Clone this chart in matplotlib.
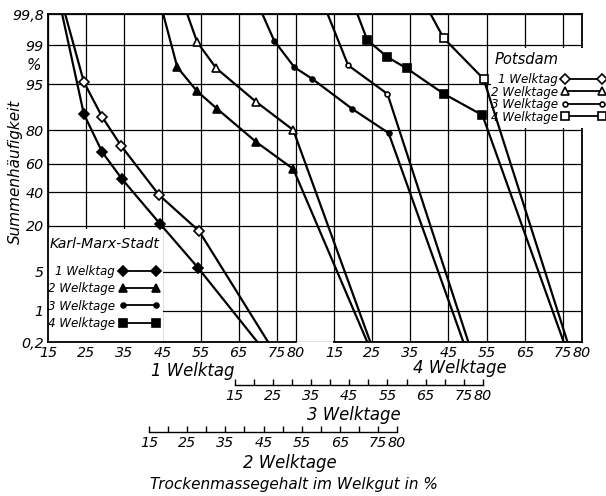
import math
import numpy as np
import matplotlib
matplotlib.use('Agg')
import matplotlib.pyplot as plt
from matplotlib.lines import Line2D
from matplotlib.patches import Rectangle

plt.rcParams['font.family'] = ['DejaVu Sans']
plt.rcParams['font.style'] = 'italic'

# Trockenmassegehalt (%) read on each group's own scale, Summenhaeufigkeit (%)
kms_1_x = [18.7, 24.4, 29.2, 34.4, 44.4, 54.4, 69.9]
kms_1_p = [99.8, 86.9, 67.6, 49.3, 21.0, 5.7, 0.2]
pots_1_x = [19.5, 24.4, 29.2, 34.2, 44.1, 54.6, 72.7]
pots_1_p = [99.8, 95.4, 85.8, 71.3, 38.3, 17.6, 0.2]

kms_2_x = [18.7, 22.4, 27.6, 32.9, 43.1, 52.8, 72.2]
kms_2_p = [99.8, 97.4, 93.6, 88.7, 73.6, 56.3, 0.2]
pots_2_x = [25.0, 27.6, 32.6, 43.1, 52.8, 73.0]
pots_2_p = [99.8, 99.15, 97.3, 90.9, 80.0, 0.2]

kms_3_x = [22.2, 25.3, 30.6, 35.3, 45.8, 55.3, 74.9]
kms_3_p = [99.8, 99.2, 97.4, 95.9, 88.7, 78.5, 0.2]
pots_3_x = [39.3, 44.7, 55.0, 76.2]
pots_3_p = [99.8, 97.6, 93.0, 0.2]

kms_4_x = [21.1, 23.7, 29.0, 34.0, 43.8, 53.9, 75.2]
kms_4_p = [99.8, 99.23, 98.3, 97.3, 93.0, 86.5, 0.2]
pots_4_x = [40.3, 43.7, 54.2, 76.2]
pots_4_p = [99.8, 99.3, 95.9, 0.2]

welktage = ['1 Welktag', '2 Welktage', '3 Welktage', '4 Welktage']
y_ticks = [0.2, 1, 5, 20, 40, 60, 80, 95, 99, 99.8]
y_labels = ['0,2', '1', '5', '20', '40', '60', '80', '95', '99', '99,8']
x_ticks = [15, 25, 35, 45, 55, 65, 75, 80]

# shift of each Welktag scale against the 1-Welktag scale
offsets = {1: 0, 2: 26.5, 3: 49, 4: 75}
markers = {1: ('D', 5), 2: ('^', 6), 3: ('o', 3.5), 4: ('s', 5.5)}
series = {1: (kms_1_x, kms_1_p, pots_1_x, pots_1_p),
          2: (kms_2_x, kms_2_p, pots_2_x, pots_2_p),
          3: (kms_3_x, kms_3_p, pots_3_x, pots_3_p),
          4: (kms_4_x, kms_4_p, pots_4_x, pots_4_p)}

_erf = np.vectorize(math.erf, otypes=[float])


def z_to_p(z):
    return 50 * (1 + _erf(np.asarray(z, float) / math.sqrt(2)))


def p_to_z(p):
    p = np.clip(np.asarray(p, float), 1e-4, 100 - 1e-4)
    lo = np.full(p.shape, -6.0)
    hi = np.full(p.shape, 6.0)
    for _ in range(45):
        mid = (lo + hi) / 2
        below = z_to_p(mid) < p
        lo = np.where(below, mid, lo)
        hi = np.where(below, hi, mid)
    return (lo + hi) / 2


fig = plt.figure(figsize=(6.06, 4.96), dpi=100)
rect = [48 / 606, 1 - 342 / 496, 534 / 606, 328 / 496]
ax = fig.add_axes(rect)

axs = {}
for k, off in offsets.items():
    a = ax if k == 1 else fig.add_axes(rect, label='w%d' % k)
    a.set_yscale('function', functions=(p_to_z, z_to_p))
    a.set_ylim(0.2, 99.8)
    a.set_xlim(15 - off, 155 - off)
    if k != 1:
        a.patch.set_visible(False)
        for s in ['top', 'left', 'right']:
            a.spines[s].set_visible(False)
        a.yaxis.set_visible(False)
        a.spines['bottom'].set_bounds(15, 80)
        a.set_xticks(x_ticks)
    axs[k] = a

# main frame, grid
ax.set_yticks(y_ticks, y_labels)
ax.set_yticks([], minor=True)
ax.set_xticks(x_ticks)
ax.set_xticks(np.array(x_ticks) + offsets[4], minor=True)
ax.spines['bottom'].set_bounds(15, 80)
ax.grid(True, which='both', color='k', lw=0.9)
ax.tick_params(which='both', length=0, labelsize=10.3, pad=3)
for s in ax.spines.values():
    s.set_linewidth(1.3)

a4 = axs[4]
a4.tick_params(length=0, labelsize=10.3, pad=3)
a4.spines['bottom'].set_linewidth(1.3)

for k, outward in [(3, 31), (2, 65)]:
    a = axs[k]
    a.spines['bottom'].set_position(('outward', outward))
    a.spines['bottom'].set_linewidth(1.0)
    a.set_xticks(np.arange(15, 81, 5), minor=True)
    a.tick_params(which='both', direction='in', length=4, width=1.0)
    a.tick_params(labelsize=10.3, pad=3)

# white boxes behind the legends
ax.add_patch(Rectangle((0, 0), 0.215, 0.343, transform=ax.transAxes,
                       fc='white', ec='none', zorder=1.6))
ax.add_patch(Rectangle((0.83, 0.652), 0.25, 0.245, transform=ax.transAxes,
                       fc='white', ec='none', zorder=3, clip_on=False))

kms_handles, pots_handles = [], []
for k in (1, 2, 3, 4):
    a = axs[k]
    mk, ms = markers[k]
    kx, kp, px, pp = series[k]
    for xs, ps, fc, handles in [(kx, kp, 'k', kms_handles), (px, pp, 'white', pots_handles)]:
        a.plot(xs, ps, color='k', lw=1.6, zorder=3)
        a.plot(xs[1:-1], ps[1:-1], ls='none', marker=mk, ms=ms, mfc=fc,
               mec='k', mew=1.2, zorder=4)
        handles.append(Line2D([], [], color='k', lw=1.3, marker=mk, ms=ms,
                              mfc=fc, mec='k', mew=1.2, label=welktage[k - 1]))

fig.text(50 / 606, 1 - 244 / 496, 'Karl-Marx-Stadt', ha='left', va='center',
         fontsize=10.2)
fig.legend(handles=kms_handles, loc='upper left',
           bbox_to_anchor=(48 / 606, 1 - 265 / 496), frameon=False,
           markerfirst=False, numpoints=2, handlelength=3.3, handletextpad=0.4,
           labelspacing=0.36, fontsize=8.6, borderpad=0, borderaxespad=0)
fig.text(495 / 606, 1 - 60 / 496, 'Potsdam', ha='left', va='center',
         fontsize=10.6)
fig.legend(handles=pots_handles, loc='upper left',
           bbox_to_anchor=(491 / 606, 1 - 73 / 496), frameon=False,
           markerfirst=False, numpoints=2, handlelength=3.7, handletextpad=0.3,
           labelspacing=-0.04, fontsize=8.6, borderpad=0, borderaxespad=0)

fig.text(15 / 606, 1 - 172 / 496, 'Summenhäufigkeit', rotation=90,
         ha='center', va='center', fontsize=11)
fig.text(34 / 606, 1 - 66 / 496, '%', ha='center', va='center', fontsize=11)
fig.text(193 / 606, 1 - 371 / 496, '1 Welktag', ha='center', va='center', fontsize=11.9)
fig.text(460 / 606, 1 - 368 / 496, '4 Welktage', ha='center', va='center', fontsize=11.9)
fig.text(354 / 606, 1 - 415 / 496, '3 Welktage', ha='center', va='center', fontsize=11.9)
fig.text(290 / 606, 1 - 463 / 496, '2 Welktage', ha='center', va='center', fontsize=11.9)
fig.text(294 / 606, 1 - 484 / 496, 'Trockenmassegehalt im Welkgut in %',
         ha='center', va='center', fontsize=11)

fig.savefig('out.png', dpi=100, facecolor='white')
